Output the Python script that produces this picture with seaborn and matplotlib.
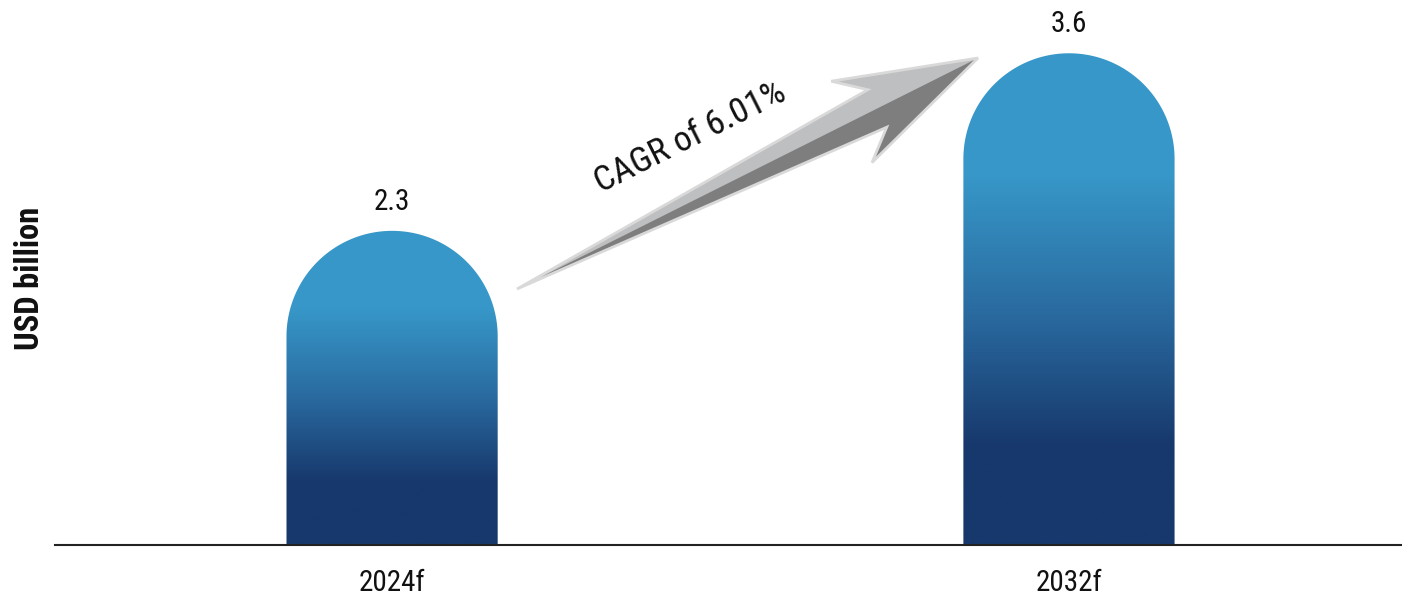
import numpy as np
import pandas as pd
import matplotlib
matplotlib.use("Agg")
import matplotlib.pyplot as plt
import seaborn as sns
from matplotlib.path import Path
from matplotlib.patches import PathPatch, Polygon
from matplotlib.colors import LinearSegmentedColormap

# Market size forecast (USD billion)
years = ["2024f", "2032f"]
market_size = [2.3, 3.6]
cagr_label = "CAGR of 6.01%"
y_title = "USD billion"

sns.set_theme(style="white")
plt.rcParams["font.family"] = ["Roboto Condensed", "DejaVu Sans"]

W, H = 1402, 601
fig = plt.figure(figsize=(W / 100, H / 100), dpi=100)
fig.patch.set_facecolor("white")
ax = fig.add_axes([55 / W, 56 / H, 1 - 55 / W, 545 / H])

df = pd.DataFrame({"year": years, "value": market_size})
sns.barplot(data=df, x="year", y="value", width=0.312, color="#2b6fa3", ax=ax)

XLIM = (-0.498, 1.492)
YLIM = (0, 3.99)
ax.set_xlim(*XLIM)
ax.set_ylim(*YLIM)

# vertical blue gradient, light at the top, navy at the base
bar_cmap = LinearSegmentedColormap.from_list(
    "bar_grad",
    [(0.0, "#3798C9"), (0.25, "#3797C8"), (0.52, "#2A6CA1"),
     (0.8, "#17386C"), (1.0, "#17386C")],
)
grad = np.linspace(0, 1, 512).reshape(-1, 1)

# pixel scale of each data unit, used to make the cap a true semicircle
bbox = ax.get_window_extent()
px_x = bbox.width / (XLIM[1] - XLIM[0])
px_y = bbox.height / (YLIM[1] - YLIM[0])

for bar in list(ax.patches):
    x0 = bar.get_x()
    w = bar.get_width()
    h = bar.get_height()
    bar.set_visible(False)
    rx = w / 2
    ry = rx * px_x / px_y
    xc = x0 + rx
    t = np.linspace(np.pi, 0, 120)
    verts = [(x0, 0), (x0, h - ry)]
    verts += list(zip(xc + rx * np.cos(t), (h - ry) + ry * np.sin(t)))
    verts += [(x0 + w, 0), (x0, 0)]
    codes = [Path.MOVETO] + [Path.LINETO] * (len(verts) - 2) + [Path.CLOSEPOLY]
    shape = PathPatch(Path(verts, codes), transform=ax.transData,
                      facecolor="none", edgecolor="none")
    ax.add_patch(shape)
    im = ax.imshow(grad, extent=[x0, x0 + w, 0, h], origin="upper",
                   aspect="auto", cmap=bar_cmap, zorder=2,
                   interpolation="bilinear")
    im.set_clip_path(shape)

ax.set_xlim(*XLIM)
ax.set_ylim(*YLIM)

# value labels above each bar
for i, v in enumerate(market_size):
    ax.annotate(f"{v}", xy=(i, v), xytext=(0, 15), textcoords="offset points",
                ha="center", va="baseline", fontsize=21, color="#111111")

# axes styling
for side in ["left", "right", "top"]:
    ax.spines[side].set_visible(False)
ax.spines["bottom"].set_color("#222222")
ax.spines["bottom"].set_linewidth(1.5)
ax.set_yticks([])
ax.set_xlabel("")
ax.set_ylabel("")
ax.tick_params(axis="x", length=0, pad=17, labelsize=21, labelcolor="#111111")
ax.set_facecolor("white")

fig.text(30 / W, 1 - 278 / H, y_title, rotation=90, ha="center", va="center",
         fontsize=23.5, fontweight="bold", color="#111111")

# growth arrow, built in a local frame (along, across) in pixels
tail = np.array([517.0, 289.0])
tip = np.array([978.0, 58.0])
d = (tip - tail) / np.linalg.norm(tip - tail)
n = np.array([d[1], -d[0]])
n = -n if n[1] > 0 else n  # points towards the top of the image


def to_fig(a, c):
    p = tail + d * a + n * c
    return (p[0] / W, 1 - p[1] / H)


L = np.linalg.norm(tip - tail)
outer = [to_fig(0, 0), to_fig(403, 21), to_fig(374, 45), to_fig(L, 0),
         to_fig(374, -46), to_fig(403, -21)]
lower = [to_fig(0, 0), to_fig(L, 0), to_fig(374, -46), to_fig(403, -21)]

fig.patches.append(Polygon(outer, closed=True, transform=fig.transFigure,
                           facecolor="#BEBFC1", edgecolor="none", zorder=3))
fig.patches.append(Polygon(lower, closed=True, transform=fig.transFigure,
                           facecolor="#7E7E7E", edgecolor="none", zorder=4))
fig.patches.append(Polygon(outer, closed=True, transform=fig.transFigure,
                           facecolor="none", edgecolor="#D9D9D9", lw=2.0,
                           joinstyle="miter", zorder=5))

angle = np.degrees(np.arctan2(-d[1], d[0]))
tx, ty = to_fig(223, 58)
fig.text(tx, ty, cagr_label, rotation=angle, rotation_mode="anchor",
         ha="center", va="center", fontsize=25.5, color="#111111")

fig.savefig("out.png", dpi=100, facecolor="white")
